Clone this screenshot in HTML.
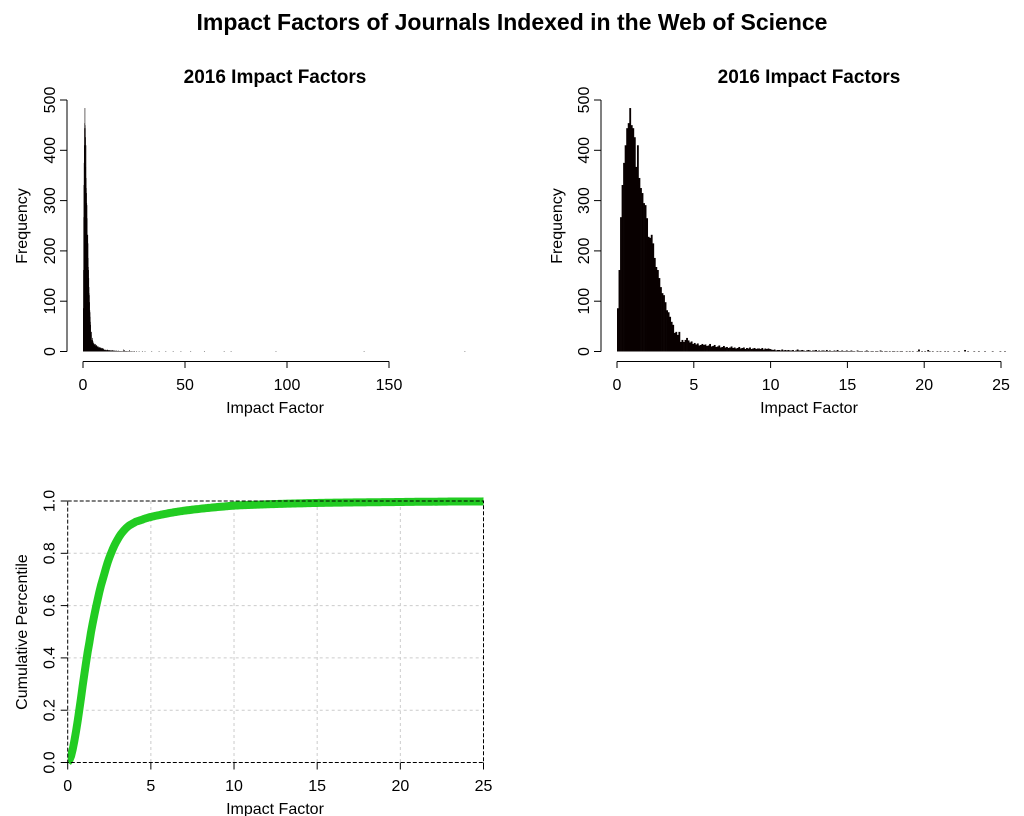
<!DOCTYPE html>
<html><head><meta charset="utf-8"><style>
html,body{margin:0;padding:0;background:#fff}
svg{display:block;font-family:"Liberation Sans",Arial,sans-serif}
</style></head><body>
<svg id="s" width="1024" height="816" viewBox="0 0 1024 816">
<defs><clipPath id="cdfclip"><rect x="67.7" y="496" width="415.8" height="270"/></clipPath></defs>
<text x="512" y="30" text-anchor="middle" font-size="23" font-weight="bold">Impact Factors of Journals Indexed in the Web of Science</text>
<text x="275" y="83" text-anchor="middle" font-size="19" font-weight="bold">2016 Impact Factors</text>
<text x="809" y="83" text-anchor="middle" font-size="19" font-weight="bold">2016 Impact Factors</text>
<text x="275" y="413" text-anchor="middle" font-size="16">Impact Factor</text>
<text x="809" y="413" text-anchor="middle" font-size="16">Impact Factor</text>
<text x="275" y="814" text-anchor="middle" font-size="16">Impact Factor</text>
<text transform="translate(27,226) rotate(-90)" text-anchor="middle" font-size="16">Frequency</text>
<text transform="translate(562,226) rotate(-90)" text-anchor="middle" font-size="16">Frequency</text>
<text transform="translate(27,632) rotate(-90)" text-anchor="middle" font-size="16">Cumulative Percentile</text>
<g id="g"></g>
</svg>
<script>
const binWidth = 0.1;
const headCounts = [86,162,267,331,375,410,444,454,484,450,444,426,367,410,345,325,315,295,291,265,228,226,232,215,186,168,162,146,128,116,112,98,82,78,69,59,53,37,39,33,39,19,23,19,23,27];
const tailCounts = [22,18,20,15,17,14,16,12,13,15,
13,14,11,12,15,10,11,13,9,10,12,8,9,11,8,
9,7,8,10,7,8,6,7,9,6,7,8,5,7,6,8,5,6,7,5,6,6,5,7,4,6,5,6,5,4,
3,4,2,3,3,2,4,2,3,2,3,2,2,3,1,2,4,2,2,3,2,1,2,3,2,1,2,2,3,1,2,1,2,2,1,3,1,2,1,1,2,1,3,1,1,2,1,1,2,1,
1,2,1,1,0,2,1,1,1,0,1,2,1,0,1,1,0,1,1,0,2,1,0,1,1,0,1,0,1,1,0,1,0,1,1,0,0,1,0,1,0,1,0,0,1,4,0,1,0,1,
0,3,1,0,1,0,0,1,0,1,0,0,1,0,1,0,0,0,1,0,0,1,0,0,0,3,0,1,0,0,0,1,0,0,1,0,0,0,1,0,0,0,0,1,0,0,0,0,1,0,0,1];
const outliers = [26.1,27.3,28.9,30.2,33.5,37.1,40.4,44.0,47.8,52.6,59.3,69.0,72.4,94.4,137.6,187.0];
const counts = headCounts.concat(tailCounts);
const leftXTicks = [0,50,100,150];
const rightXTicks = [0,5,10,15,20,25];
const freqTicks = [0,100,200,300,400,500];
const cdfXTicks = [0,5,10,15,20,25];
const cdfYTicks = ["0.0","0.2","0.4","0.6","0.8","1.0"];

const NS="http://www.w3.org/2000/svg";
const G=document.getElementById('g');
function mk(tag,attrs,parent){const e=document.createElementNS(NS,tag);for(const k in attrs)e.setAttribute(k,attrs[k]);(parent||G).appendChild(e);return e;}

function histogram(prefix,x0px,pxPerUnit,yAxisX,xTicks,showOutliers){
  const base=351.5, yS=v=>base-v*0.503, xS=v=>x0px+v*pxPerUnit;
  const grp=mk('g',{});
  
  
  counts.forEach((c,i)=>{
    if(c<=0)return;
    const x=xS(i*binWidth), w=Math.max(binWidth*pxPerUnit+0.3,0.6);
    const r=mk('rect',{x:x,y:yS(c),width:w,height:base-yS(c),fill:'#080000'},grp);
    
    
  });
  if(showOutliers){
    outliers.forEach(v=>{
      const r=mk('rect',{x:xS(v),y:yS(1),width:0.8,height:base-yS(1),fill:'#000'},grp);
      
      
    });
  }
  const xa=mk('g',{});
  
  
  mk('line',{x1:xS(xTicks[0]),x2:xS(xTicks[xTicks.length-1]),y1:361.5,y2:361.5,stroke:'#000'},xa);
  xTicks.forEach(t=>{
    mk('line',{x1:xS(t),x2:xS(t),y1:361.5,y2:368,stroke:'#000'},xa);
    const tx=mk('text',{x:xS(t),y:390,'text-anchor':'middle','font-size':16},xa);
    tx.textContent=t;
    
    
  });
  const ya=mk('g',{});
  
  
  mk('line',{x1:yAxisX,x2:yAxisX,y1:yS(0),y2:yS(500),stroke:'#000'},ya);
  freqTicks.forEach(t=>{
    mk('line',{x1:yAxisX,x2:yAxisX-7,y1:yS(t),y2:yS(t),stroke:'#000'},ya);
    const tx=mk('text',{transform:`translate(${yAxisX-12},${yS(t)}) rotate(-90)`,'text-anchor':'middle','font-size':16},ya);
    tx.textContent=t;
    
    
  });
}
histogram('left',83,2.04,67,leftXTicks,true);
histogram('right',617,15.36,601,rightXTicks,false);

(function(){
  const L=67.7,R=483.5,T=501,B=762.5;
  const xS=v=>L+v/25*(R-L), yS=v=>B-v*(B-T);
  const cg=mk('g',{});
  
  
  cdfXTicks.slice(1,-1).forEach(t=>mk('line',{x1:xS(t),x2:xS(t),y1:T,y2:B,stroke:'#ccc','stroke-dasharray':'3,3'},cg));
  cdfYTicks.slice(1,-1).forEach(t=>mk('line',{x1:L,x2:R,y1:yS(+t),y2:yS(+t),stroke:'#ccc','stroke-dasharray':'3,3'},cg));
  const total=counts.reduce((a,b)=>a+b,0)+outliers.length;
  let cum=0; const pts=[[xS(0),yS(0)]];
  counts.forEach((c,i)=>{cum+=c;pts.push([xS((i+1)*binWidth),yS(cum/total)]);});
  pts.push([R+10,yS(cum/total)]);
  const line=mk('polyline',{points:pts.map(p=>p.join(',')).join(' '),fill:'none',stroke:'#22cc22','stroke-width':8,'stroke-linejoin':'round','stroke-linecap':'butt','clip-path':'url(#cdfclip)'},cg);
  
  
  const box=mk('rect',{x:L,y:T,width:R-L,height:B-T,fill:'none',stroke:'#000','stroke-dasharray':'4,2'},cg);
  
  
  cdfXTicks.forEach(t=>{
    mk('line',{x1:xS(t),x2:xS(t),y1:B,y2:B+7,stroke:'#000'},cg);
    const tx=mk('text',{x:xS(t),y:791,'text-anchor':'middle','font-size':16},cg);
    tx.textContent=t;
    
    
  });
  cdfYTicks.forEach(t=>{
    mk('line',{x1:L,x2:L-7,y1:yS(+t),y2:yS(+t),stroke:'#000'},cg);
    const tx=mk('text',{transform:`translate(${L-13},${yS(+t)}) rotate(-90)`,'text-anchor':'middle','font-size':16},cg);
    tx.textContent=t;
    
    
  });
})();
</script>
</body></html>
